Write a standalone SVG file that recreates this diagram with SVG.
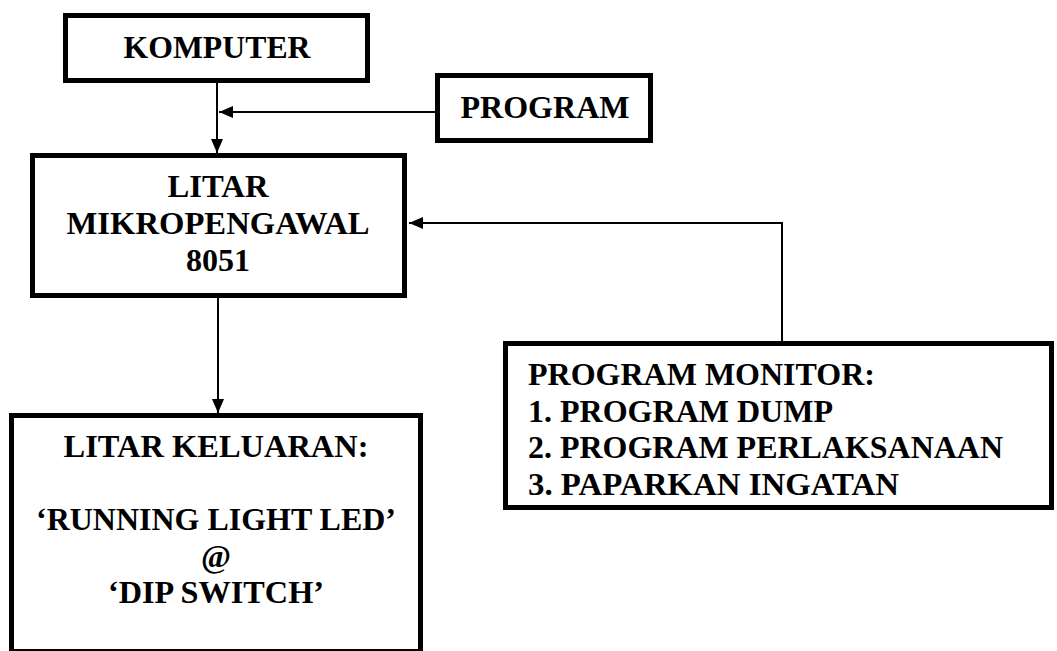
<svg xmlns="http://www.w3.org/2000/svg" width="1057" height="651" viewBox="0 0 1057 651">
<style>
.box{fill:#fff;stroke:#000;stroke-width:5}
.t{font-family:'Liberation Serif','Times','Nimbus Roman','Nimbus Roman No9 L','FreeSerif','Noto Serif','DejaVu Serif','Georgia',serif;font-weight:bold;font-size:32px;fill:#000}
.c{text-anchor:middle}
.ln{fill:none;stroke:#000;stroke-width:2}
</style>
<defs>
<marker id="ah" viewBox="0 0 14 12" refX="14" refY="6" markerWidth="14" markerHeight="12" markerUnits="userSpaceOnUse" orient="auto">
<path d="M0,0 L14,6 L0,12 Z" fill="#000"/>
</marker>
</defs>
<rect width="1057" height="651" fill="#fff"/>
<g id="connectors">
<path class="ln" d="M217,83 V153" marker-end="url(#ah)"/>
<path class="ln" d="M435,112 H219" marker-end="url(#ah)"/>
<path class="ln" d="M782,342 V223 H409" marker-end="url(#ah)"/>
<path class="ln" d="M218,298 V413" marker-end="url(#ah)"/>
</g>
<g id="komputer">
<rect class="box" x="65.5" y="15.5" width="302" height="65"/>
<text class="t c" x="217" y="58" textLength="187" lengthAdjust="spacingAndGlyphs">KOMPUTER</text>
</g>
<g id="program">
<rect class="box" x="437.5" y="75.5" width="213" height="65"/>
<text class="t c" x="545" y="118" textLength="169" lengthAdjust="spacingAndGlyphs">PROGRAM</text>
</g>
<g id="litar">
<rect class="box" x="32.5" y="155.5" width="372" height="140"/>
<text class="t c" x="218" y="197" textLength="101" lengthAdjust="spacingAndGlyphs">LITAR</text>
<text class="t c" x="218" y="234" textLength="303" lengthAdjust="spacingAndGlyphs">MIKROPENGAWAL</text>
<text class="t c" x="218" y="271" textLength="64" lengthAdjust="spacingAndGlyphs">8051</text>
</g>
<g id="monitor">
<rect class="box" x="505.5" y="343.5" width="546" height="164"/>
<text class="t" x="528" y="385" textLength="347" lengthAdjust="spacingAndGlyphs">PROGRAM MONITOR:</text>
<text class="t" x="528" y="422" textLength="305" lengthAdjust="spacingAndGlyphs">1. PROGRAM DUMP</text>
<text class="t" x="528" y="458" textLength="475" lengthAdjust="spacingAndGlyphs">2. PROGRAM PERLAKSANAAN</text>
<text class="t" x="528" y="495" textLength="371" lengthAdjust="spacingAndGlyphs">3. PAPARKAN INGATAN</text>
</g>
<g id="keluaran">
<rect class="box" x="11.5" y="415.5" width="409" height="236"/>
<text class="t c" x="216" y="457" textLength="305" lengthAdjust="spacingAndGlyphs">LITAR KELUARAN:</text>
<text class="t c" x="216" y="530" textLength="360" lengthAdjust="spacingAndGlyphs">‘RUNNING LIGHT LED’</text>
<text class="t c" x="216" y="567" textLength="30" lengthAdjust="spacingAndGlyphs">@</text>
<text class="t c" x="216" y="603" textLength="216" lengthAdjust="spacingAndGlyphs">‘DIP SWITCH’</text>
</g>
</svg>
